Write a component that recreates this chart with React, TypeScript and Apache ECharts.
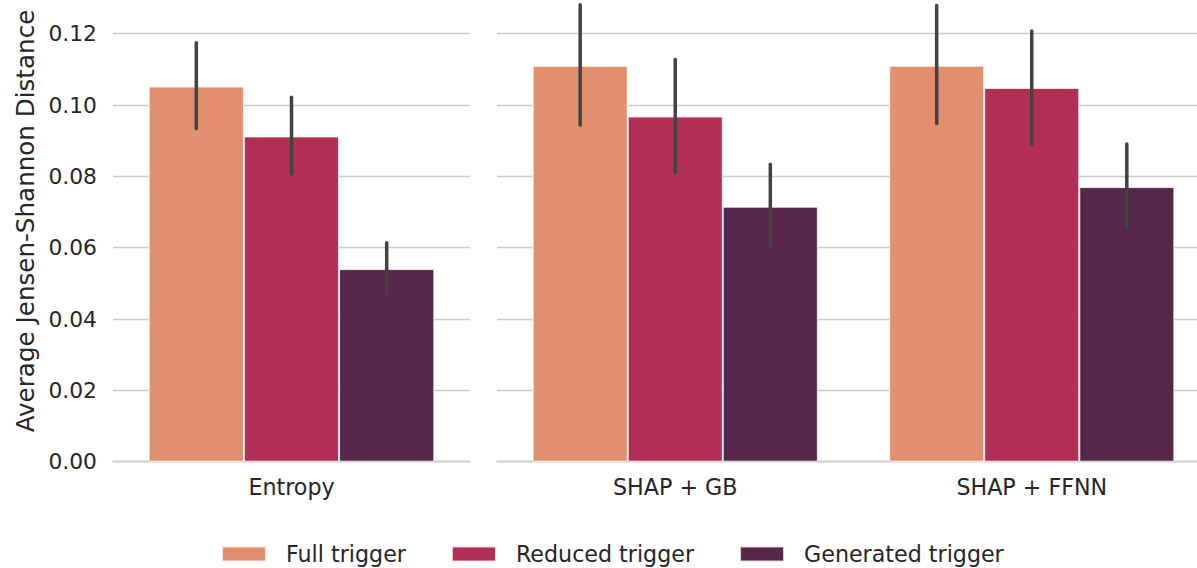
import React, { useEffect, useRef } from "react";
import * as echarts from "echarts";

const hues = ["Full trigger", "Reduced trigger", "Generated trigger"];
const colors = ["#e28f70", "#b23056", "#57264b"];

const leftCategories = ["Entropy"];
const rightCategories = ["SHAP + GB", "SHAP + FFNN"];

// means per hue, per category
const leftMeans = [[0.1052], [0.0912], [0.054]];
const leftLow = [[0.0934], [0.0807], [0.0472]];
const leftHigh = [[0.1175], [0.1022], [0.0614]];

const rightMeans = [
  [0.111, 0.111],
  [0.0968, 0.1048],
  [0.0715, 0.077],
];
const rightLow = [
  [0.0944, 0.0948],
  [0.081, 0.0891],
  [0.0603, 0.0656],
];
const rightHigh = [
  [0.1281, 0.1279],
  [0.1128, 0.1208],
  [0.0834, 0.0891],
];

const yTicks = { min: 0, max: 0.14, interval: 0.02 };
const yAxisTitle = "Average Jensen-Shannon Distance";

const FONT = "DejaVu Sans";
const TEXT = "#262626";
const GRIDC = "#cccccc";

export default function App() {
  const ref = useRef<HTMLDivElement>(null);
  useEffect(() => {
    if (!ref.current) return;
    const chart = echarts.init(ref.current, null, { renderer: "svg" });

    const makeErr = (hi: number, gridIdx: number, low: number[][], high: number[][]) => ({
      type: "custom",
      xAxisIndex: gridIdx,
      yAxisIndex: gridIdx,
      z: 5,
      silent: true,
      encode: { x: 0, y: [1, 2] },
      data: low[hi].map((l, i) => [i, l, high[hi][i]]),
      renderItem: (params: any, api: any) => {
        const ci = api.value(0);
        const p1 = api.coord([ci, api.value(1)]);
        const p2 = api.coord([ci, api.value(2)]);
        const bw = api.size([1, 0])[0];
        const off = (hi - 1) * (bw * 0.8) / 3;
        return {
          type: "line",
          shape: { x1: p1[0] + off, y1: p1[1], x2: p2[0] + off, y2: p2[1] },
          style: { stroke: "#424242", lineWidth: 3.5, lineCap: "round" },
        };
      },
    });

    const series: any[] = [];
    hues.forEach((h, hi) => {
      series.push({
        type: "bar",
        name: h,
        xAxisIndex: 0,
        yAxisIndex: 0,
        data: leftMeans[hi],
        barGap: "0%",
        barCategoryGap: "20%",
        itemStyle: { color: colors[hi], borderColor: "rgba(255,255,255,0.8)", borderWidth: 1 },
      });
    });
    hues.forEach((h, hi) => {
      series.push({
        type: "bar",
        name: h,
        xAxisIndex: 1,
        yAxisIndex: 1,
        data: rightMeans[hi],
        barGap: "0%",
        barCategoryGap: "20%",
        itemStyle: { color: colors[hi], borderColor: "rgba(255,255,255,0.8)", borderWidth: 1 },
      });
    });
    hues.forEach((_, hi) => series.push(makeErr(hi, 0, leftLow, leftHigh)));
    hues.forEach((_, hi) => series.push(makeErr(hi, 1, rightLow, rightHigh)));

    const xAxisBase = {
      type: "category",
      boundaryGap: true,
      axisLine: { show: true, lineStyle: { color: GRIDC, width: 1.3 } },
      axisTick: { show: false },
      axisLabel: { color: TEXT, fontFamily: FONT, fontSize: 22.2, margin: 14 },
      splitLine: { show: false },
    };
    const yAxisBase = {
      type: "value",
      min: yTicks.min,
      max: yTicks.max,
      interval: yTicks.interval,
      axisLine: { show: false },
      axisTick: { show: false },
      splitLine: { show: true, lineStyle: { color: GRIDC, width: 1.3 } },
    };

    chart.setOption({
      animation: false,
      textStyle: { fontFamily: FONT },
      grid: [
        { left: 113, width: 357, top: -37.6, height: 499.3, outerBoundsMode: "none", containLabel: false },
        { left: 497, width: 713, top: -37.6, height: 499.3, outerBoundsMode: "none", containLabel: false },
      ],
      xAxis: [
        { ...xAxisBase, gridIndex: 0, data: leftCategories },
        { ...xAxisBase, gridIndex: 1, data: rightCategories },
      ],
      yAxis: [
        {
          ...yAxisBase,
          gridIndex: 0,
          axisLabel: {
            color: TEXT,
            fontFamily: FONT,
            fontSize: 21.8,
            margin: 16,
            showMaxLabel: false,
            formatter: (v: number) => (v > 0.13 ? "" : v.toFixed(2)),
          },
        },
        { ...yAxisBase, gridIndex: 1, axisLabel: { show: false } },
      ],
      graphic: [
        {
          type: "text",
          x: 25,
          y: 221,
          rotation: Math.PI / 2,
          style: {
            text: yAxisTitle,
            fill: TEXT,
            font: `24.6px "${FONT}"`,
            textAlign: "center",
            textVerticalAlign: "middle",
          },
        },
      ],
      legend: {
        data: hues,
        left: 221,
        top: 543,
        padding: 0,
        icon: "rect",
        itemWidth: 44,
        itemHeight: 15,
        itemGap: 45,
        textStyle: { color: TEXT, fontFamily: FONT, fontSize: 22.2, padding: [0, 0, 0, 15] },
      },
      series,
    });
    return () => chart.dispose();
  }, []);
  return (
    <div
      ref={ref}
      style={{ position: "absolute", left: 0, top: 0, width: 1197, height: 568 }}
    />
  );
}
